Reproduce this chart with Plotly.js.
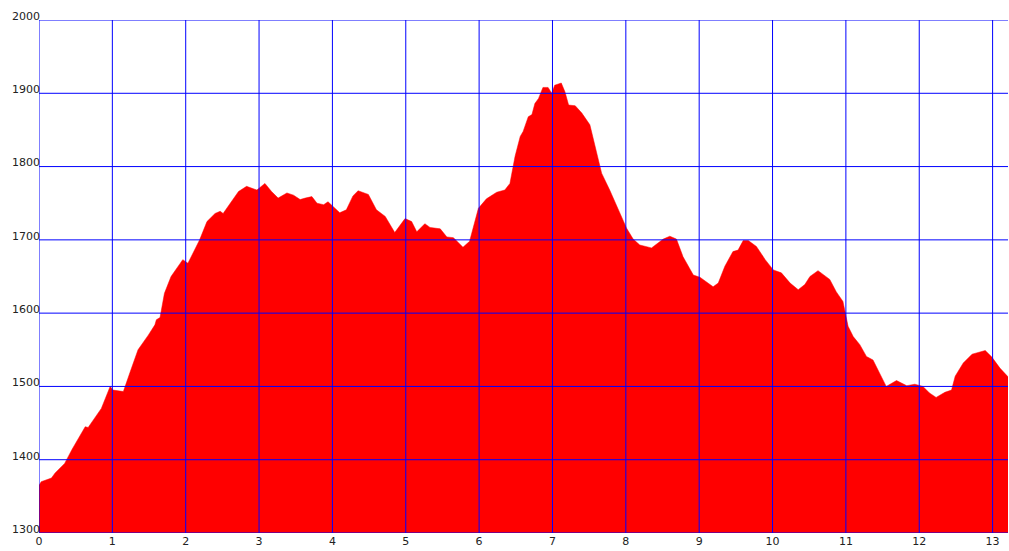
<!DOCTYPE html>
<html>
<head>
<meta charset="utf-8">
<script src="https://cdn.plot.ly/plotly-3.0.1.min.js"></script>
<style>html,body{margin:0;padding:0;background:#fff;}#chart{width:1009px;height:551px;}</style>
</head>
<body>
<div id="chart"></div>
<script>
const distance = [0,0.03,0.17,0.22,0.35,0.45,0.63,0.67,0.85,0.97,1.01,1.15,1.24,1.35,1.49,1.58,1.60,1.65,1.71,1.80,1.96,2.03,2.19,2.29,2.40,2.47,2.51,2.65,2.72,2.83,2.97,3.08,3.17,3.26,3.38,3.47,3.56,3.63,3.72,3.79,3.88,3.94,4.01,4.10,4.19,4.28,4.35,4.49,4.60,4.72,4.85,4.99,5.08,5.15,5.26,5.33,5.47,5.56,5.65,5.78,5.87,5.99,6.10,6.24,6.35,6.42,6.49,6.56,6.60,6.67,6.72,6.76,6.81,6.87,6.94,6.99,7.03,7.12,7.17,7.22,7.31,7.40,7.51,7.58,7.67,7.78,7.92,8.01,8.10,8.19,8.35,8.51,8.60,8.69,8.78,8.92,9.01,9.19,9.26,9.35,9.46,9.53,9.60,9.67,9.78,9.90,10.01,10.12,10.24,10.35,10.44,10.51,10.62,10.78,10.87,10.96,11.03,11.10,11.19,11.28,11.37,11.46,11.55,11.69,11.83,11.94,12.05,12.14,12.23,12.35,12.44,12.49,12.60,12.72,12.90,12.99,13.10,13.23];
const elevation = [1365,1370,1375,1382,1395,1414,1445,1444,1470,1500,1495,1493,1519,1550,1570,1584,1591,1594,1627,1650,1673,1668,1700,1725,1736,1739,1736,1755,1766,1773,1768,1777,1766,1757,1764,1761,1755,1757,1759,1750,1748,1752,1745,1737,1741,1760,1767,1762,1741,1732,1710,1729,1725,1711,1722,1717,1715,1704,1703,1690,1698,1743,1756,1765,1768,1777,1814,1841,1848,1868,1871,1886,1893,1908,1908,1900,1911,1914,1902,1884,1883,1873,1857,1827,1791,1768,1736,1716,1701,1693,1689,1701,1705,1701,1677,1652,1649,1636,1641,1664,1684,1686,1699,1699,1691,1673,1659,1655,1641,1632,1639,1650,1658,1646,1629,1616,1582,1568,1557,1541,1536,1518,1500,1508,1501,1503,1500,1491,1485,1492,1495,1514,1532,1544,1549,1540,1525,1511];
const xTicks = [0,1,2,3,4,5,6,7,8,9,10,11,12,13];
const yTicks = [1300,1400,1500,1600,1700,1800,1900,2000];
const xRange = [0, 13.21];
const yRange = [1300, 2000];

const gridColor = '#0000ff';
const shapes = [];
xTicks.forEach(v => shapes.push({type:'line', xref:'x', yref:'y', x0:v, x1:v, y0:yRange[0], y1:yRange[1], layer:'above', line:{color:gridColor, width:1}}));
yTicks.forEach(v => shapes.push({type:'line', xref:'x', yref:'y', x0:xRange[0], x1:xRange[1], y0:v, y1:v, layer:'above', line:{color:gridColor, width:1}}));

const trace = {
  x: distance, y: elevation, type:'scatter', mode:'lines',
  fill:'tozeroy', fillcolor:'#ff0000',
  line:{color:'#ff0000', width:0.5}, hoverinfo:'skip'
};
const font = {family:'DejaVu Sans, Verdana, sans-serif', size:11, color:'#222222'};
const layout = {
  width:1009, height:551,
  margin:{l:39, r:1, t:20, b:18, pad:0},
  paper_bgcolor:'#ffffff', plot_bgcolor:'#ffffff',
  showlegend:false,
  xaxis:{range:xRange, tickvals:xTicks, ticktext:xTicks.map(String), showgrid:false, zeroline:false, showline:false, ticks:'', tickfont:font, fixedrange:true},
  yaxis:{range:yRange, tickvals:yTicks, ticktext:yTicks.map(String), showgrid:false, zeroline:false, showline:false, ticks:'', tickfont:font, ticklabelstandoff:-2, ticklabelshift:-4, fixedrange:true},
  shapes: shapes
};
Plotly.newPlot('chart', [trace], layout, {displayModeBar:false, staticPlot:true});
</script>
</body>
</html>
